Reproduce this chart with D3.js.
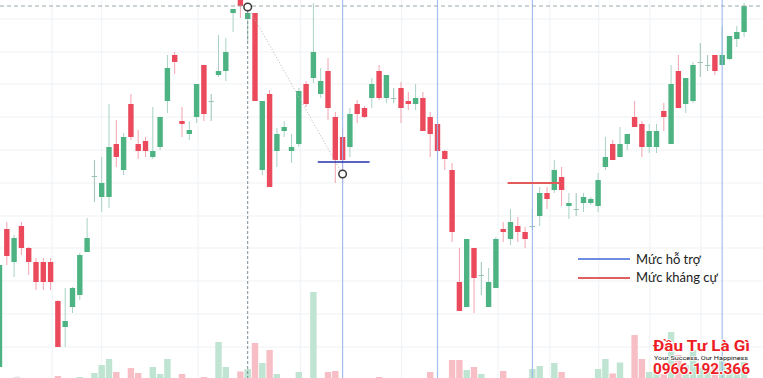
<!DOCTYPE html>
<html>
<head>
<meta charset="utf-8">
<script src="https://cdn.jsdelivr.net/npm/d3@7"></script>
<style>
  body { margin: 0; background: #fff; }
  svg { display: block; }
</style>
</head>
<body>
<svg></svg>
<script>
var width = 763, height = 378;

// OHLC per session (price units)
var opens = [33,171,138,174,152,138,138,138,99,73,
  93,105,148,224,203,203,256,230,296,256,
  259,243,253,299,345,279,266,283,335,299,
  325,329,387,400,381,387,230,306,249,269,
  249,256,316,322,306,329,283,263,253,296,
  292,302,329,302,302,312,299,296,302,283,
  276,249,230,118,93,152,125,93,112,171,
  161,174,168,174,184,207,210,223,194,191,
  197,197,194,233,256,243,256,283,276,253,
  253,289,256,329,296,299,338,335,345,335,
  341,361,368];
var highs = [137,178,165,178,153,142,142,142,100,112,
  113,147,182,240,243,296,280,267,306,270,
  263,293,283,345,348,293,279,316,335,306,
  365,362,391,404,390,387,299,310,272,279,
  266,312,319,397,332,342,288,273,292,300,
  294,322,335,325,312,318,308,316,308,288,
  276,250,237,152,161,152,138,132,163,178,
  191,183,173,191,213,213,240,233,207,207,
  207,203,227,263,260,273,266,299,279,276,
  276,297,335,345,322,338,357,345,345,374,
  364,374,397];
var lows = [28,135,123,145,125,110,110,110,53,53,
  87,100,148,198,188,192,233,225,260,241,
  243,241,250,287,326,263,260,277,279,279,
  323,319,368,382,358,299,225,213,233,263,
  237,253,293,317,302,280,217,217,243,277,
  282,292,300,297,297,277,290,290,269,243,
  241,230,158,89,93,87,105,93,112,158,
  155,158,152,170,174,191,207,194,181,184,
  188,195,188,230,240,243,250,273,243,247,
  247,269,256,292,287,297,323,329,325,335,
  340,353,363];
var closes = [135,144,162,152,138,118,118,118,53,79,
  112,145,162,224,217,253,243,263,263,249,
  249,249,283,332,338,276,270,316,286,299,
  329,348,391,394,387,299,299,213,266,273,
  253,309,296,348,319,292,240,240,286,286,
  283,316,302,325,302,292,296,302,269,266,
  249,241,168,89,161,122,125,118,161,168,
  178,168,161,174,207,201,230,210,197,191,
  203,201,220,243,240,256,266,273,253,269,
  269,283,316,292,322,335,338,335,329,345,
  364,368,394];
var volumes = [0,0,0,0,0,0,0,0,4,0,
  0,3,0,7,15,21,8,0,12,7,
  0,13,6,21,0,6,0,0,3,0,
  38,13,0,8.5,11,37,17,30,6,0,
  0,8,0,88,0,8,9,0,0,0,
  0,0,3,0,0,0,0,0,0,8,
  0,0,20,20,10,13,6,0,1,9,
  0,0,0,11,14,0,17,8,0,0,
  0,0,11,21,6.5,17.5,0,45,21,8,
  10,6,48,25,15,30,12,10,14,20,
  12,10,18];

var gridPrices = [381, 348, 316, 283, 250, 217, 184, 152, 119, 86, 53];
var gridSessions = [7.2, 14, 27.2, 41.2, 55.1, 68.3, 75.4, 82.1, 89.1, 96.1];
var markedSessions = [47, 60, 73, 99];
var support = {level: 238, from: 43.6, to: 50.7};
var resistance = {level: 217, from: 69.6, to: 76.8};
var pivots = [{i: 34, p: 393}, {i: 47, p: 226}];
var topLevel = 394;
var legendLabels = ["Mức hỗ trợ", "Mức kháng cự"];

var upColor = "#4db383", downColor = "#ea4a5c";
var upWick = "#a9d2c4", downWick = "#f2a4b0", dojiColor = "#9cc2b6";

var svg = d3.select("svg")
  .attr("width", width)
  .attr("height", height);

var x = d3.scaleLinear().domain([0, 102]).range([-0.5, 744.1]);
var y = d3.scaleLinear().domain([0, 400]).range([400, 0]);
var yVol = d3.scaleLinear().domain([0, 100]).range([380, 280]);

var data = d3.range(opens.length).map(function(i){
  return {i: i, o: opens[i], h: highs[i], l: lows[i], c: closes[i], v: volumes[i]};
});

// grid
svg.append("g").selectAll("line")
  .data(gridPrices).enter().append("line")
  .attr("x1", 0).attr("x2", width)
  .attr("y1", function(d){ return y(d); })
  .attr("y2", function(d){ return y(d); })
  .attr("stroke", "#eef1f5").attr("stroke-width", 1);

svg.append("g").selectAll("line")
  .data(gridSessions).enter().append("line")
  .attr("x1", function(d){ return x(d); })
  .attr("x2", function(d){ return x(d); })
  .attr("y1", 0).attr("y2", height)
  .attr("stroke", "#eef1f5").attr("stroke-width", 1);

// volume
svg.append("g").selectAll("rect")
  .data(data).enter().append("rect")
  .attr("x", function(d){ return x(d.i) - 3.2; })
  .attr("width", 6.4)
  .attr("y", function(d){ return yVol(d.v); })
  .attr("height", function(d){ return yVol(0) - yVol(d.v); })
  .attr("fill", function(d){ return d.c < d.o ? "#f7bec6" : "#bfe4d2"; });

// wicks
svg.append("g").selectAll("line")
  .data(data).enter().append("line")
  .attr("x1", function(d){ return x(d.i); })
  .attr("x2", function(d){ return x(d.i); })
  .attr("y1", function(d){ return y(d.h); })
  .attr("y2", function(d){ return y(d.l); })
  .attr("stroke", function(d){
    if (d.c === d.o) return dojiColor;
    return d.c > d.o ? upWick : downWick;
  })
  .attr("stroke-width", 1);

// bodies
svg.append("g").selectAll("rect")
  .data(data).enter().append("rect")
  .attr("x", function(d){ return x(d.i) - 2.7; })
  .attr("width", 5.4)
  .attr("y", function(d){ return y(Math.max(d.o, d.c)); })
  .attr("height", function(d){ return Math.max(1, Math.abs(y(d.o) - y(d.c))); })
  .attr("fill", function(d){
    if (d.c === d.o) return dojiColor;
    return d.c > d.o ? upColor : downColor;
  });

// marked sessions
svg.append("g").selectAll("line")
  .data(markedSessions).enter().append("line")
  .attr("x1", function(d){ return x(d); })
  .attr("x2", function(d){ return x(d); })
  .attr("y1", 0).attr("y2", height)
  .attr("stroke", "#94b3ea").attr("stroke-opacity", 0.85).attr("stroke-width", 1.2);

// top level dashed + vertical dashed
svg.append("line")
  .attr("x1", 0).attr("x2", width)
  .attr("y1", y(topLevel)).attr("y2", y(topLevel))
  .attr("stroke", "#9aa8b0").attr("stroke-dasharray", "4,3").attr("stroke-width", 1);

svg.append("line")
  .attr("x1", x(pivots[0].i)).attr("x2", x(pivots[0].i))
  .attr("y1", y(pivots[0].p) + 4).attr("y2", height)
  .attr("stroke", "#7f8c96").attr("stroke-dasharray", "3,2").attr("stroke-width", 1);

svg.append("line")
  .attr("x1", x(pivots[0].i) + 2).attr("y1", y(pivots[0].p) + 3)
  .attr("x2", x(pivots[1].i) - 2).attr("y2", y(pivots[1].p) - 3)
  .attr("stroke", "#b0b6bc").attr("stroke-dasharray", "1,2").attr("stroke-width", 1);

// support / resistance
svg.append("line")
  .attr("x1", x(support.from)).attr("x2", x(support.to))
  .attr("y1", y(support.level)).attr("y2", y(support.level))
  .attr("stroke", "#2431b0").attr("stroke-width", 1.5);

svg.append("line")
  .attr("x1", x(resistance.from)).attr("x2", x(resistance.to))
  .attr("y1", y(resistance.level)).attr("y2", y(resistance.level))
  .attr("stroke", "#e25a5a").attr("stroke-width", 2);

svg.append("g").selectAll("circle")
  .data(pivots).enter().append("circle")
  .attr("cx", function(d){ return x(d.i); })
  .attr("cy", function(d){ return y(d.p); })
  .attr("r", 3.8)
  .attr("fill", "#fff")
  .attr("stroke", "#3a3a3a").attr("stroke-width", 1.5);

// legend
var legend = svg.append("g").attr("transform", "translate(578,259)");
legend.selectAll("line")
  .data(legendLabels).enter().append("line")
  .attr("x1", 0).attr("x2", 52)
  .attr("y1", function(d, i){ return i * 19; })
  .attr("y2", function(d, i){ return i * 19; })
  .attr("stroke", function(d, i){ return i === 0 ? "#3f66d6" : "#d42828"; })
  .attr("stroke-width", 1.5);
legend.selectAll("text")
  .data(legendLabels).enter().append("text")
  .attr("x", 58)
  .attr("y", function(d, i){ return 4.5 + i * 18.5; })
  .attr("font-family", "Lato, 'Open Sans', sans-serif")
  .attr("font-size", 13)
  .attr("fill", "#222")
  .text(function(d){ return d; });

// watermark
var logo = svg.append("g");
logo.append("text")
  .attr("x", 653).attr("y", 350.5)
  .attr("textLength", 97).attr("lengthAdjust", "spacingAndGlyphs")
  .attr("font-family", "Roboto, sans-serif").attr("font-weight", "bold")
  .attr("font-size", 14).attr("fill", "#ee1c25")
  .attr("stroke", "#fff").attr("stroke-width", 1.5).attr("paint-order", "stroke")
  .text("Đầu Tư Là Gì");
logo.append("text")
  .attr("x", 654).attr("y", 359.5)
  .attr("textLength", 94).attr("lengthAdjust", "spacingAndGlyphs")
  .attr("font-family", "Roboto, sans-serif")
  .attr("font-size", 6).attr("fill", "#111")
  .attr("stroke", "#fff").attr("stroke-width", 1.5).attr("paint-order", "stroke")
  .text("Your Success, Our Happiness");
logo.append("text")
  .attr("x", 653).attr("y", 374)
  .attr("textLength", 97).attr("lengthAdjust", "spacingAndGlyphs")
  .attr("font-family", "Roboto, sans-serif").attr("font-weight", "bold")
  .attr("font-size", 14).attr("fill", "#ee1c25")
  .attr("stroke", "#fff").attr("stroke-width", 1.5).attr("paint-order", "stroke")
  .text("0966.192.366");

// corner badge
svg.append("circle")
  .attr("cx", 17).attr("cy", 384).attr("r", 7)
  .attr("fill", "none").attr("stroke", "#d6dadf").attr("stroke-width", 1);
</script>
</body>
</html>
